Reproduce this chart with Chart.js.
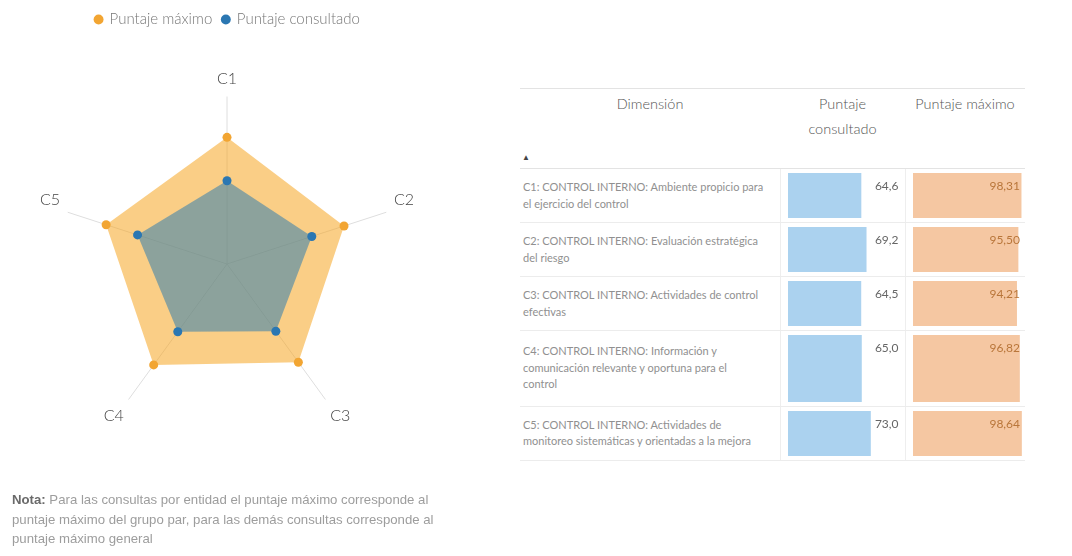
<!DOCTYPE html>
<html>
<head>
<meta charset="utf-8">
<script src="https://cdn.jsdelivr.net/npm/chart.js@4.4.1/dist/chart.umd.min.js"></script>
<style>
  body { margin: 0; background: #fff; font-family: "Segoe UI", Lato, "Liberation Sans", sans-serif; }
  #page { position: relative; width: 1072px; height: 556px; overflow: hidden; }
  #radarBox { position: absolute; left: 0; top: 2px; width: 455px; height: 490px; }
  #note { position: absolute; left: 12px; top: 490px; font-family: "Liberation Sans", Arial, sans-serif; font-size: 13.2px; line-height: 19.5px; color: #9d9d9d; white-space: nowrap; }
  #note b { color: #6a6a6a; font-weight: 600; }
  table { position: absolute; left: 520px; top: 88px; border-collapse: collapse; table-layout: fixed; width: 505px; }
  th { font-weight: 300; color: #555; font-size: 14.5px; line-height: 25px; vertical-align: top; padding: 2px 0 0 0; height: 77px; border-top: 1px solid #e3e3e3; border-bottom: 1px solid #e3e3e3; position: relative; }
  td { border-bottom: 1px solid #ececec; vertical-align: top; position: relative; padding: 0; }
  td.dim { font-size: 11px; line-height: 16.5px; color: #909090; padding: 10px 0 10px 3px; white-space: nowrap; }
  td.dim.tall { padding-bottom: 13px; padding-top: 12px; }
  td.bar { border-left: 1px solid #eee; }
  .sort { position: absolute; left: 2px; top: 56px; font-size: 8px; color: #444; }
  .bw { position: absolute; top: 4px; bottom: 4px; }
  .val { position: absolute; top: 9px; font-size: 12px; }
</style>
</head>
<body>
<div id="page">
  <div id="radarBox"><canvas id="radar"></canvas></div>
  <table id="tbl">
    <colgroup><col style="width:260px"><col style="width:125px"><col style="width:120px"></colgroup>
    <thead>
      <tr>
        <th>Dimensión<span class="sort">▲</span></th>
        <th>Puntaje<br>consultado</th>
        <th>Puntaje máximo</th>
      </tr>
    </thead>
    <tbody id="rows"></tbody>
  </table>
  <div id="note"><b>Nota:</b> Para las consultas por entidad el puntaje máximo corresponde al<br>puntaje máximo del grupo par, para las demás consultas corresponde al<br>puntaje máximo general</div>
</div>
<script>
// data
const axes = ['C1', 'C2', 'C3', 'C4', 'C5'];
const consultado = [64.6, 69.2, 64.5, 65.0, 73.0];
const maximo = [98.31, 95.50, 94.21, 96.82, 98.64];
const dimensiones = [
  ['C1: CONTROL INTERNO: Ambiente propicio para', 'el ejercicio del control'],
  ['C2: CONTROL INTERNO: Evaluación estratégica', 'del riesgo'],
  ['C3: CONTROL INTERNO: Actividades de control', 'efectivas'],
  ['C4: CONTROL INTERNO: Información y', 'comunicación relevante y oportuna para el', 'control'],
  ['C5: CONTROL INTERNO: Actividades de', 'monitoreo sistemáticas y orientadas a la mejora']
];

Chart.defaults.animation = false;
Chart.defaults.font.family = '"Segoe UI", Lato, "Liberation Sans", sans-serif';

const orange = '#f2a532';
const blue = '#2b77b2';

// extra gap under the legend without moving the legend itself
const legendGap = {
  id: 'legendGap',
  afterInit(chart) {
    const fit = chart.legend.fit;
    chart.legend.fit = function () {
      fit.call(this);
      this.height += 14;
    };
  }
};

new Chart(document.getElementById('radar'), {
  type: 'radar',
  data: {
    labels: axes,
    datasets: [
      {
        label: 'Puntaje consultado',
        data: consultado,
        backgroundColor: 'rgba(31,119,180,0.5)',
        borderWidth: 0,
        pointBackgroundColor: blue,
        pointBorderWidth: 0,
        pointRadius: 4.5
      },
      {
        label: 'Puntaje máximo',
        data: maximo,
        backgroundColor: 'rgba(245,166,35,0.55)',
        borderWidth: 0,
        pointBackgroundColor: orange,
        pointBorderWidth: 0,
        pointRadius: 4.5
      }
    ]
  },
  options: {
    responsive: true,
    maintainAspectRatio: false,
    layout: { padding: { top: 0, bottom: 16, left: 40, right: 40 } },
    plugins: {
      legend: {
        reverse: true,
        labels: {
          usePointStyle: true,
          pointStyle: 'circle',
          boxWidth: 7,
          boxHeight: 7,
          padding: 10,
          color: '#777',
          font: { size: 15, weight: 300 }
        }
      },
      tooltip: { enabled: false }
    },
    scales: {
      r: {
        min: 0,
        max: 130,
        ticks: { display: false },
        grid: { display: false },
        angleLines: { color: '#dedede' },
        pointLabels: { color: '#444', font: { size: 16, weight: 300 }, padding: 8 }
      }
    }
  },
  plugins: [legendGap]
});

// table rows with data bars
const tbody = document.getElementById('rows');
const barCharts = [];
dimensiones.forEach((lines, i) => {
  const tr = document.createElement('tr');
  tr.innerHTML =
    '<td class="dim' + (lines.length > 2 ? ' tall' : '') + '">' + lines.join('<br>') + '</td>' +
    '<td class="bar"><div class="bw" style="left:7px;width:113px"><canvas id="bc' + i + '"></canvas></div>' +
    '<div class="val" style="right:6px;color:#666">' + consultado[i].toFixed(1).replace('.', ',') + '</div></td>' +
    '<td class="bar"><div class="bw" style="left:7px;width:110px"><canvas id="bm' + i + '"></canvas></div>' +
    '<div class="val" style="right:5px;color:#b9763a">' + maximo[i].toFixed(2).replace('.', ',') + '</div></td>';
  tbody.appendChild(tr);
});

function dataBar(id, value, color) {
  return new Chart(document.getElementById(id), {
    type: 'bar',
    data: {
      labels: [''],
      datasets: [{ data: [value], backgroundColor: color, barPercentage: 1, categoryPercentage: 1 }]
    },
    options: {
      indexAxis: 'y',
      responsive: true,
      maintainAspectRatio: false,
      layout: { padding: 0 },
      plugins: { legend: { display: false }, tooltip: { enabled: false } },
      scales: {
        x: { display: false, min: 0, max: 100 },
        y: { display: false }
      }
    }
  });
}

consultado.forEach((v, i) => barCharts.push(dataBar('bc' + i, v, '#abd2ef')));
maximo.forEach((v, i) => barCharts.push(dataBar('bm' + i, v, '#f5c7a2')));
</script>
</body>
</html>
